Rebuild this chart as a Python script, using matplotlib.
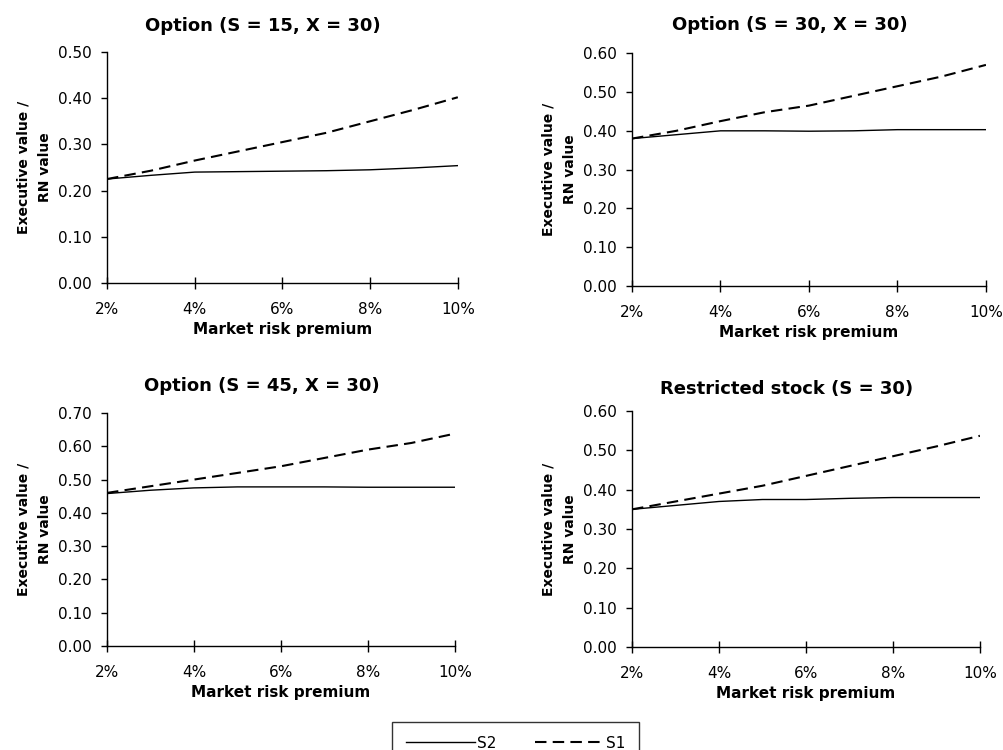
import matplotlib
matplotlib.use("Agg")
import matplotlib.pyplot as plt
from matplotlib.ticker import FuncFormatter

plt.rcParams['font.family'] = ['DejaVu Sans']

premium = [2, 3, 4, 5, 6, 7, 8, 9, 10]
x_ticks = [2, 4, 6, 8, 10]

titles = ["Option (S = 15, X = 30)", "Option (S = 30, X = 30)",
          "Option (S = 45, X = 30)", "Restricted stock (S = 30)"]

s2_tl = [0.225, 0.233, 0.240, 0.241, 0.242, 0.243, 0.245, 0.249, 0.254]
s1_tl = [0.225, 0.243, 0.265, 0.285, 0.305, 0.325, 0.350, 0.375, 0.402]

s2_tr = [0.380, 0.390, 0.400, 0.400, 0.399, 0.400, 0.403, 0.403, 0.403]
s1_tr = [0.380, 0.400, 0.425, 0.448, 0.465, 0.490, 0.515, 0.540, 0.570]

s2_bl = [0.458, 0.468, 0.475, 0.478, 0.478, 0.478, 0.477, 0.477, 0.477]
s1_bl = [0.460, 0.480, 0.500, 0.520, 0.540, 0.565, 0.590, 0.610, 0.638]

s2_br = [0.350, 0.360, 0.370, 0.375, 0.375, 0.378, 0.380, 0.380, 0.380]
s1_br = [0.350, 0.370, 0.390, 0.410, 0.435, 0.460, 0.485, 0.510, 0.537]

y_max = [0.50, 0.60, 0.70, 0.60]

fig = plt.figure(figsize=(10.04, 7.5), dpi=100)
rects = [
    [0.1066, 0.6227, 0.3494, 0.3080],
    [0.6295, 0.6187, 0.3525, 0.3103],
    [0.1066, 0.1387, 0.3464, 0.3106],
    [0.6295, 0.1373, 0.3465, 0.3147],
]
title_pads = [15, 17, 16, 12]
series = [(s2_tl, s1_tl), (s2_tr, s1_tr), (s2_bl, s1_bl), (s2_br, s1_br)]

handles = None
for rect, title, (s2, s1), ym, tp in zip(rects, titles, series, y_max, title_pads):
    ax = fig.add_axes(rect)
    l2, = ax.plot(premium, s2, color='black', lw=1.0, label='S2')
    l1, = ax.plot(premium, s1, color='black', lw=1.5, ls=(0, (5.5, 3)), label='S1')
    handles = [l2, l1]
    ax.set_xlim(2, 10)
    ax.set_ylim(0, ym)
    ax.set_xticks(x_ticks)
    ax.xaxis.set_major_formatter(FuncFormatter(lambda v, p: f"{int(round(v))}%"))
    n = int(round(ym / 0.1))
    ax.set_yticks([i * 0.1 for i in range(n + 1)])
    ax.yaxis.set_major_formatter(FuncFormatter(lambda v, p: f"{v:.2f}"))
    for s in ['top', 'right']:
        ax.spines[s].set_visible(False)
    for s in ['left', 'bottom']:
        ax.spines[s].set_linewidth(1.0)
    ax.tick_params(axis='x', direction='inout', length=8, width=1, labelsize=11, pad=10)
    ax.tick_params(axis='y', direction='out', length=4, width=1, labelsize=11, pad=7)
    t = ax.set_title(title, fontsize=13, fontweight='bold', pad=tp)
    t.set_x(0.445)
    ax.set_xlabel("Market risk premium", fontsize=11, fontweight='bold', labelpad=3)
    ax.set_ylabel("Executive value /\nRN value", fontsize=10, fontweight='bold', labelpad=4,
                  linespacing=1.7)

leg = fig.legend(handles, ['S2', 'S1'], loc='upper center',
                 bbox_to_anchor=(0.5135, 1 - 722 / 750),
                 ncol=2, frameon=True, fancybox=False, edgecolor='black',
                 handlelength=4.5, handletextpad=0.15, columnspacing=2.5,
                 fontsize=11, borderpad=0.9, borderaxespad=0)
leg.get_frame().set_linewidth(1.0)

fig.savefig("out.png", dpi=100)
